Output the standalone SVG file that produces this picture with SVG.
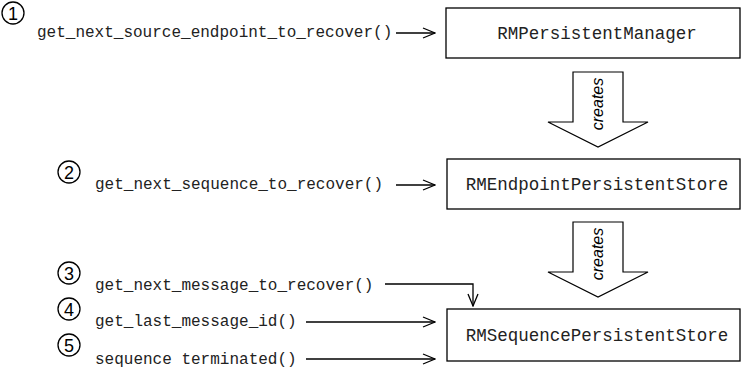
<svg xmlns="http://www.w3.org/2000/svg" width="744" height="368" viewBox="0 0 744 368">
<style>
.bg{fill:#fff}
.box{fill:#fff;stroke:#000;stroke-width:1.3}
.lbl{font-family:"Liberation Mono","Courier New",monospace;font-size:17.5px;fill:#222}
.m{font-family:"Liberation Mono","Courier New",monospace;font-size:16px;fill:#222}
.num{font-family:"Liberation Sans",Arial,sans-serif;font-size:18px;fill:#000;text-anchor:middle}
.circ{fill:none;stroke:#000;stroke-width:1.3}
.ln{fill:none;stroke:#000;stroke-width:1.3}
.blk{fill:#fff;stroke:#000;stroke-width:1.2}
.cr{font-family:"Liberation Sans",Arial,sans-serif;font-size:16px;font-style:italic;fill:#000;text-anchor:middle}
</style>
<defs>
<marker id="ah" markerUnits="userSpaceOnUse" markerWidth="14" markerHeight="12" refX="13" refY="6" orient="auto">
<path d="M1,1 L13,6 L1,11" fill="none" stroke="#000" stroke-width="1.3"/>
</marker>
</defs>
<rect class="bg" x="0" y="0" width="744" height="368"/>

<g id="node-rmpersistentmanager">
<rect class="box" x="446" y="8" width="294" height="50"/>
<text class="lbl" x="597" y="39" text-anchor="middle">RMPersistentManager</text>
</g>
<g id="node-rmendpointpersistentstore">
<rect class="box" x="447" y="159" width="293" height="50"/>
<text class="lbl" x="597" y="190" text-anchor="middle">RMEndpointPersistentStore</text>
</g>
<g id="node-rmsequencepersistentstore">
<rect class="box" x="447" y="309" width="293" height="52"/>
<text class="lbl" x="597" y="341" text-anchor="middle">RMSequencePersistentStore</text>
</g>

<g id="creates-1">
<polygon class="blk" points="573,72 623,72 623,122 648,122 598,147 548,122 573,122"/>
<text class="cr" transform="translate(603,104) rotate(-90)">creates</text>
</g>
<g id="creates-2">
<polygon class="blk" points="573,222 623,222 623,272 648,272 598,297 548,272 573,272"/>
<text class="cr" transform="translate(603,254) rotate(-90)">creates</text>
</g>

<g id="labels">
<circle class="circ" cx="13" cy="13" r="11"/>
<text class="num" x="13" y="19.5">1</text>
<text class="m" x="37" y="37">get_next_source_endpoint_to_recover()</text>

<circle class="circ" cx="69" cy="172" r="11"/>
<text class="num" x="69" y="178.5">2</text>
<text class="m" x="95" y="189">get_next_sequence_to_recover()</text>

<circle class="circ" cx="69" cy="273" r="11"/>
<text class="num" x="69" y="279.5">3</text>
<text class="m" x="95" y="290">get_next_message_to_recover()</text>

<circle class="circ" cx="69" cy="309" r="11"/>
<text class="num" x="69" y="315.5">4</text>
<text class="m" x="95" y="326">get_last_message_id()</text>

<circle class="circ" cx="69" cy="345" r="11"/>
<text class="num" x="69" y="351.5">5</text>
<text class="m" x="95" y="364">sequence terminated()</text>
</g>

<g id="connectors">
<line class="ln" x1="396" y1="33" x2="435" y2="33" marker-end="url(#ah)"/>
<line class="ln" x1="396" y1="185" x2="435" y2="185" marker-end="url(#ah)"/>
<polyline class="ln" points="385,284 473,284 473,306" marker-end="url(#ah)"/>
<line class="ln" x1="306" y1="322" x2="435" y2="322" marker-end="url(#ah)"/>
<line class="ln" x1="306" y1="359" x2="435" y2="359" marker-end="url(#ah)"/>
</g>
</svg>
